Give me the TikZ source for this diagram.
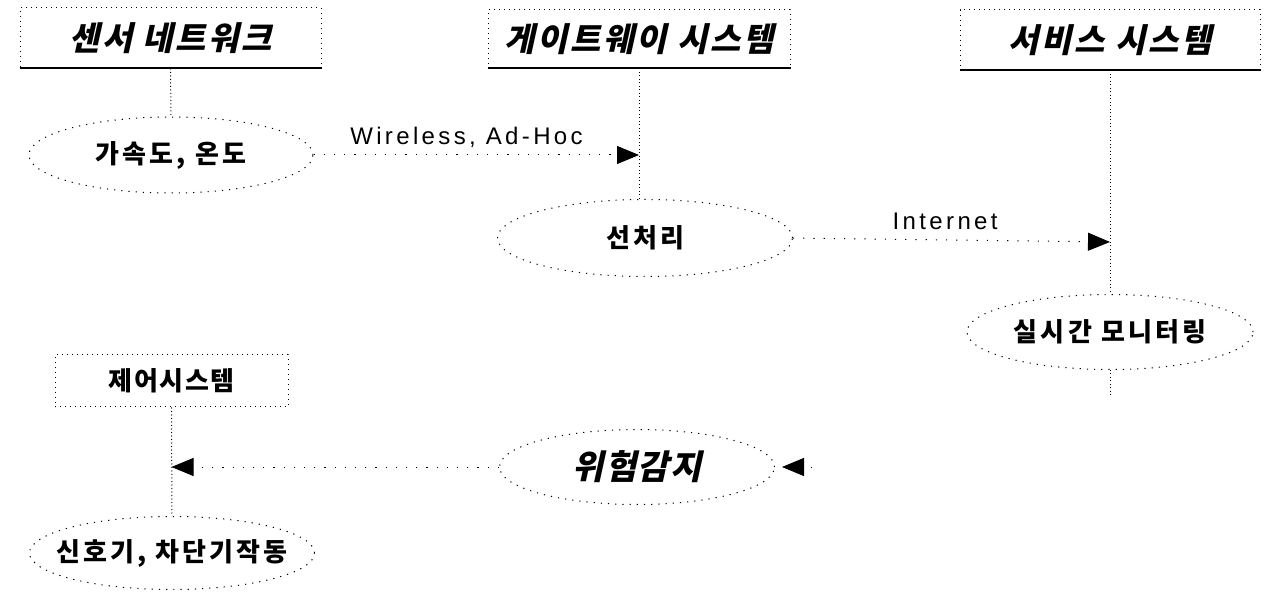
\documentclass[tikz,border=0pt]{standalone}
\usepackage{fontspec}
\setmainfont{Liberation Sans}[LetterSpace=14]
\newfontfamily\krs[LetterSpace=12]{Noto Sans CJK KR}
\newfontfamily\krc[LetterSpace=6]{Noto Sans CJK KR}
\newfontfamily\krit[FakeSlant=0.22,LetterSpace=8]{Noto Sans CJK KR}
\newfontfamily\kritw[FakeSlant=0.22,LetterSpace=4]{Noto Sans CJK KR}
\usetikzlibrary{arrows.meta,shapes.geometric}
\tikzset{
  sysbox/.style={draw, line width=1pt, dash pattern=on 1pt off 4pt, inner sep=0pt, font=\krit\bfseries\fontsize{33}{33}\selectfont},
  ctbox/.style={draw, line width=1pt, dash pattern=on 1pt off 4pt, inner sep=0pt, font=\krc\bfseries\fontsize{26}{26}\selectfont},
  ell/.style={ellipse, draw, line width=1pt, dash pattern=on 1.2pt off 6pt, inner sep=0pt, font=\krs\bfseries\fontsize{26}{26}\selectfont},
  life/.style={draw, line width=1pt, dash pattern=on 1pt off 2.5pt},
  msg/.style={draw, line width=1pt, dash pattern=on 1.2pt off 9pt, -{Triangle[length=22pt,width=18pt]}},
  base/.style={line width=2pt},
  lbl/.style={font=\fontsize{24}{24}\selectfont, inner sep=2pt}
}
\begin{document}
\begin{tikzpicture}[x=1pt,y=-1pt]
\useasboundingbox (0,0) rectangle (1272,593);
% system boxes
\node[sysbox, minimum width=301pt, minimum height=60pt] (sn) at (170.5,38) {센서 네트워크};
\node[sysbox, minimum width=302pt, minimum height=58pt] (gw) at (639,39) {게이트웨이 시스템};
\node[sysbox, minimum width=300pt, minimum height=60pt] (sv) at (1110,40) {서비스 시스템};
\node[ctbox, minimum width=233pt, minimum height=52pt] (ct) at (171.5,381) {제어시스템};
\draw[base] (sn.south west) -- (sn.south east);
\draw[base] (gw.south west) -- (gw.south east);
\draw[base] (sv.south west) -- (sv.south east);
% ellipses
\node[ell, minimum width=284pt, minimum height=76pt] (e1) at (171,155) {가속도, 온도};
\node[ell, minimum width=295pt, minimum height=77pt] (e2) at (645,238) {선처리};
\node[ell, minimum width=286pt, minimum height=75pt, inner xsep=-8pt] (e3) at (1110,332) {실시간 모니터링};
\node[ell, minimum width=275pt, minimum height=75pt, font=\kritw\bfseries\fontsize{34}{34}\selectfont] (e4) at (637,467) {위험감지};
\node[ell, minimum width=285pt, minimum height=73pt, inner xsep=-18pt] (e5) at (172,553) {신호기, 차단기작동};
% lifelines
\coordinate (gwm) at (gw.south |- e1.east);
\coordinate (svm) at (sv.south |- 0,242);
\coordinate (ctm) at (ct.south |- e4.west);
\coordinate (sve) at (1110,396);
\coordinate (wr) at (812,467);
\draw[life] (sn.south) -- (e1.north);
\draw[life] (gw.south) -- (gw.south |- e2.north);
\draw[life] (sv.south) -- (sv.south |- e3.north);
\draw[life] (sv.south |- e3.south) -- (sve);
\draw[life] (ct.south) -- (e5.north);
% messages
\draw[msg] (e1.east) -- node[lbl, above=5pt, pos=0.47] (l1) {Wireless, Ad-Hoc} (gwm);
\draw[msg] (e2.east) -- node[lbl, above=8pt, pos=0.48] (l2) {Internet} (svm);
\draw[msg] (e4.west) -- (ctm);
\draw[msg, shorten >=7pt] (wr) -- (e4.east);
\end{tikzpicture}
\end{document}
